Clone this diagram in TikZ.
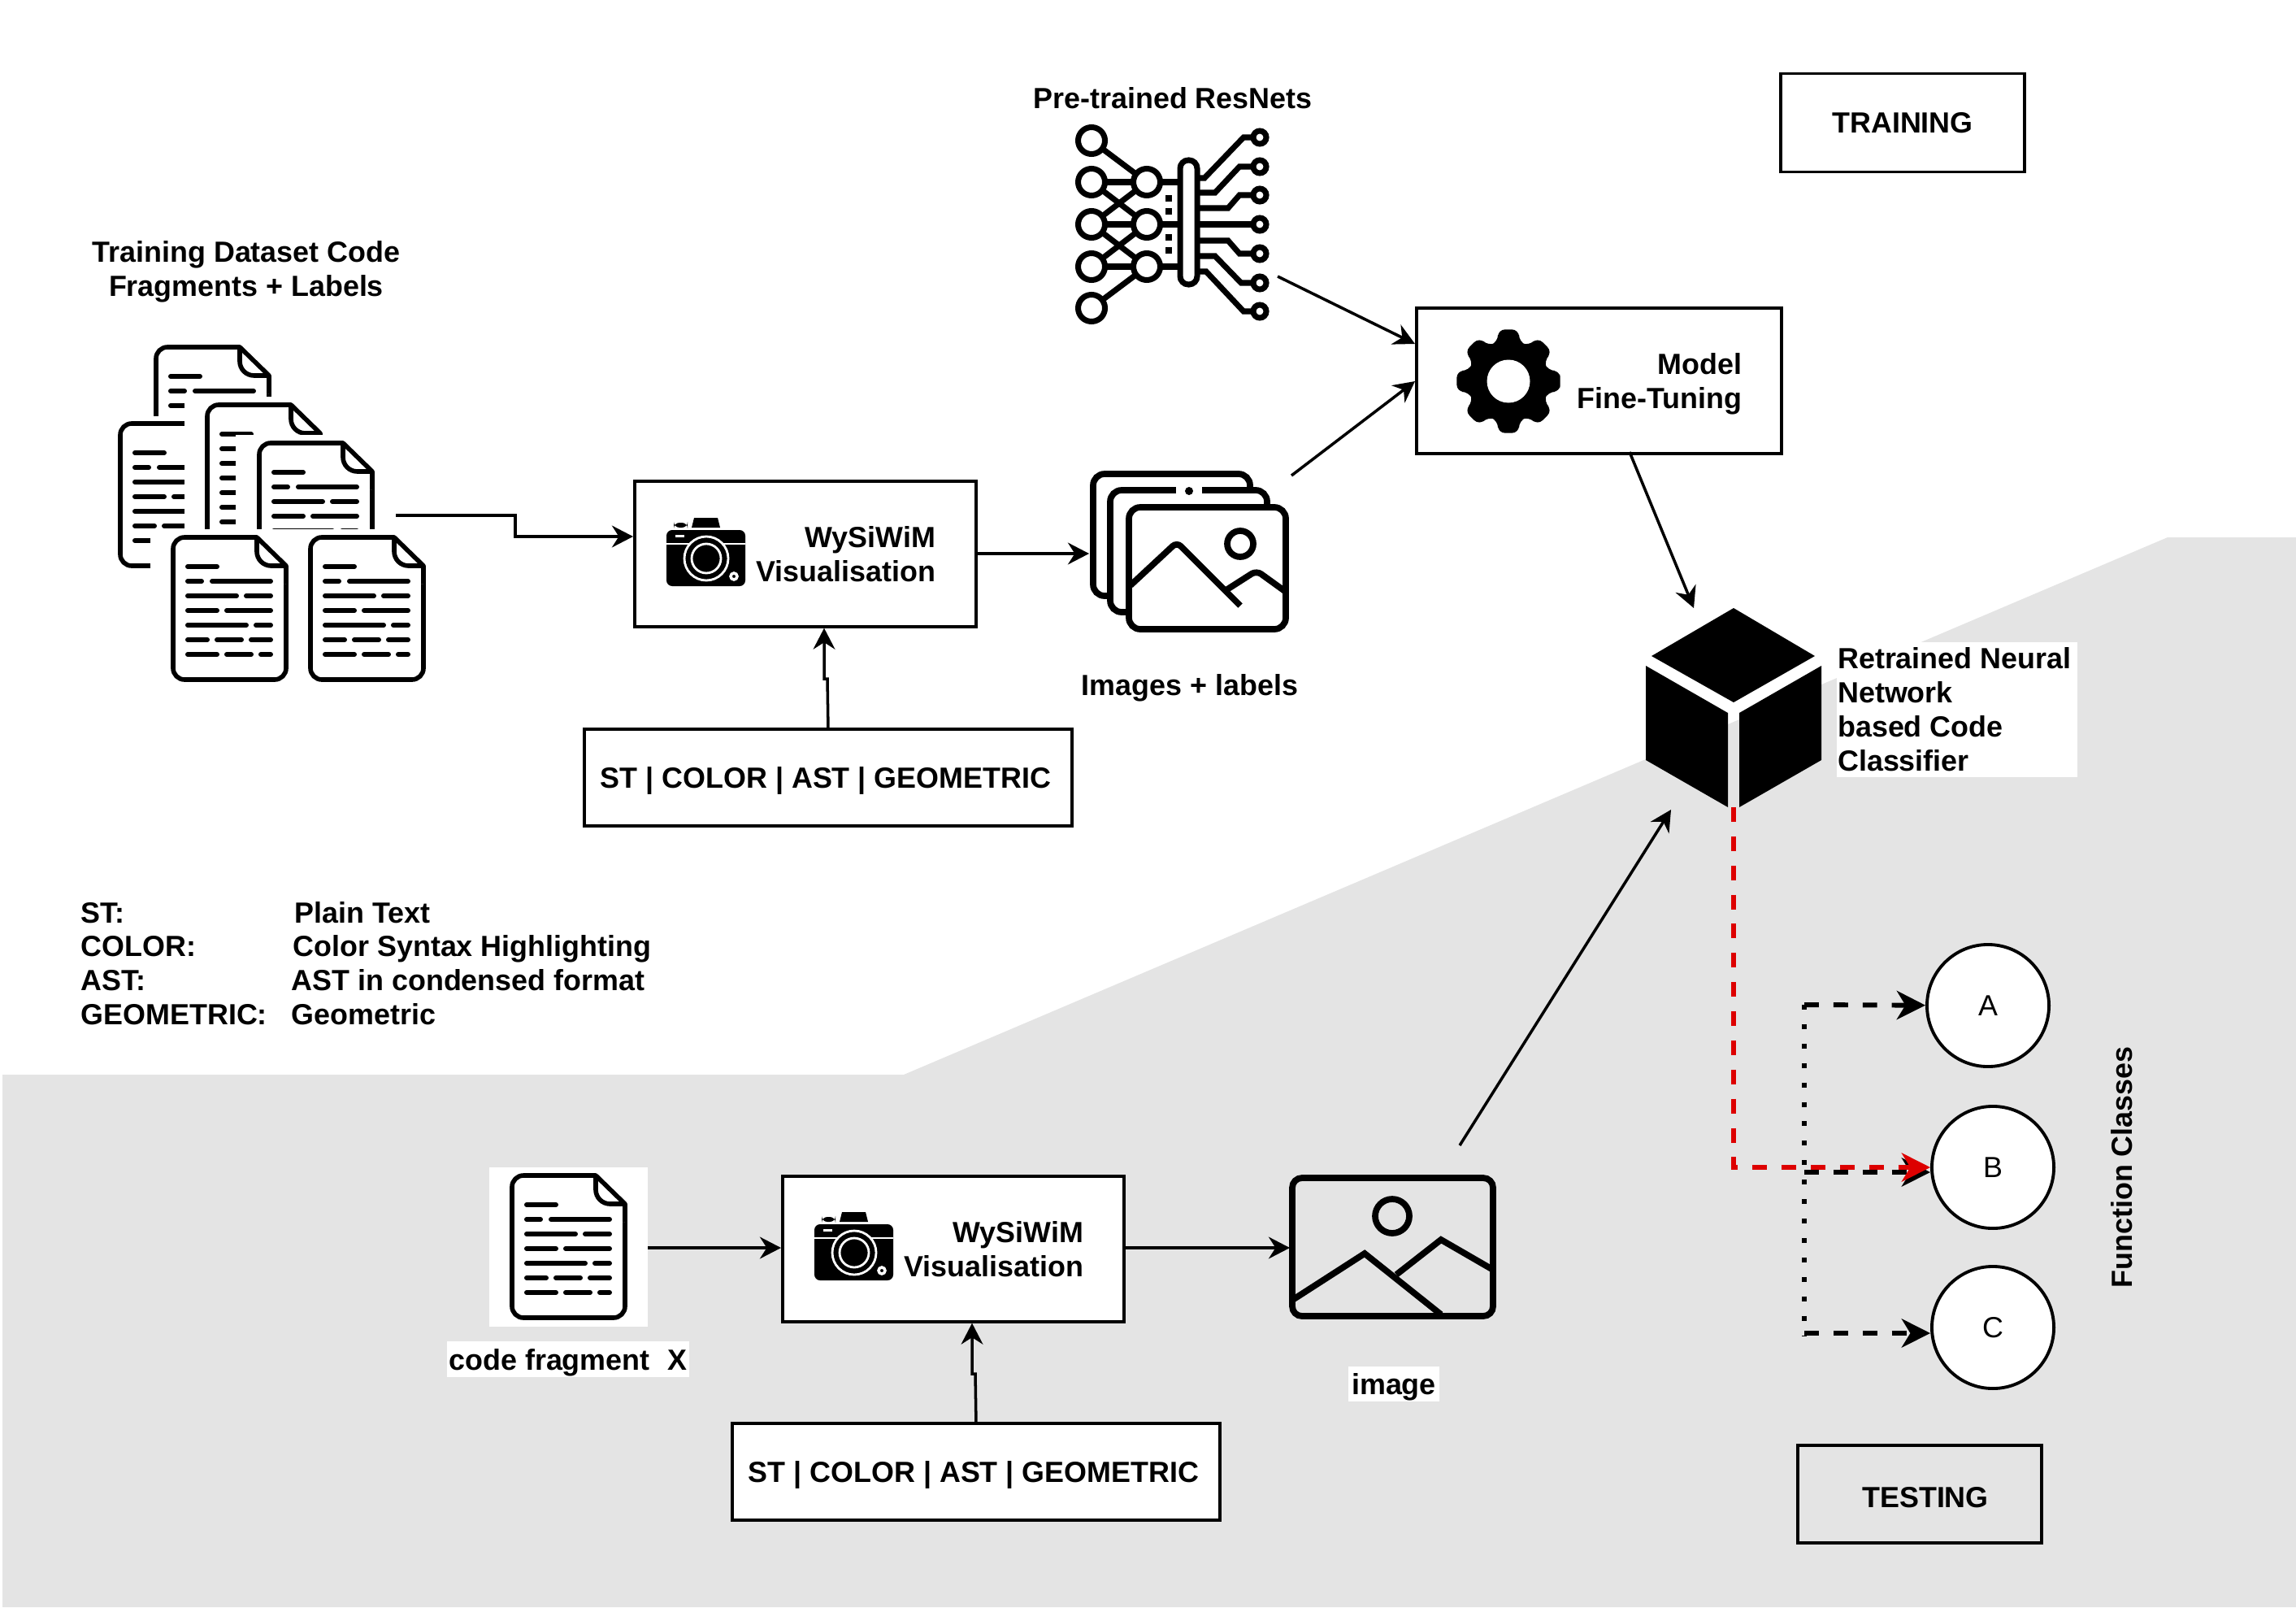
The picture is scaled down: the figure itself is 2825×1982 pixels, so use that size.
\documentclass[tikz,border=0pt]{standalone}
\usepackage{fontspec}
\setmainfont{Liberation Sans}
\usetikzlibrary{arrows.meta}
\definecolor{bandgray}{HTML}{E4E4E4}
\definecolor{flowred}{HTML}{DD0000}
\tikzset{
  lbl/.style={font=\fontsize{10.2pt}{11.9pt}\selectfont\bfseries,inner sep=0pt,align=center},
  legendtxt/.style={lbl,anchor=base west,align=left},
  procbox/.style={lbl,draw,line width=1pt,fill=white,align=right,inner ysep=0pt,minimum height=1.79cm,anchor=north west},
  tagbox/.style={lbl,draw,line width=1pt,fill=white,minimum width=6cm,minimum height=1.19cm,text depth=0pt,anchor=north west},
  classnode/.style={circle,draw,line width=1.1pt,fill=white,minimum size=1.5cm,inner sep=0pt,font=\fontsize{10.2pt}{12pt}\selectfont},
  link/.style={->,line width=1pt},
  fat/.style={line width=1.7pt,>={Stealth[length=10pt,width=10pt,inset=3pt]}},
  docline/.style={line width=1.7pt,line cap=round},
  codefile/.pic={
    \draw[line width=1.6pt,fill=white,rounded corners=4pt] (106,3) -- (3,3) -- (3,178) -- (142,178) -- (142,38);
    \fill[white] (106,3) -- (142,38) -- (142,60) -- (60,60) -- (60,3) -- cycle;
    \draw[line width=1.6pt,line join=round] (50,3) -- (106,3) -- (142,38) -- (142,60);
    \draw[line width=1.6pt,rounded corners=5pt] (106,3) -- (106,38) -- (142,38);
    \foreach \yy/\parts in {39/{18/60},57/{18/41,48/126},75/{18/84,90/126},93/{18/60,66/126},111/{18/96,102/126},129/{18/48,54/90,96/126},147/{18/60,66/102,108/126}}
      \foreach \aa/\bb in \parts
        \draw[docline] (\aa+3,\yy) -- (\bb-3,\yy);
  },
  picframe/.pic={
    \draw[line width=2.2pt,fill=white,rounded corners=4pt] (4,4) rectangle (197,154);
  },
  camshot/.pic={
    \fill[rounded corners=2pt] (0,15) rectangle (97,84);
    \fill (31,12) -- (34,0) -- (63,0) -- (66,12) -- cycle;
    \fill[rounded corners=2pt] (9,12) rectangle (26,6);
    \draw[white,line width=.5pt] (0,32) -- (97,32);
    \fill[white] (11,21) rectangle (22,24);
    \draw[white,line width=.8pt,fill=black] (49,50) circle (27);
    \draw[white,line width=.8pt] (49,50) circle (18);
    \draw[white,line width=1pt] (83,72) circle (4);
  }
}
\begin{document}
\begin{tikzpicture}[x=0.01cm,y=-0.01cm,>={Stealth[length=7.4pt,width=7.6pt,inset=2.4pt]}]
\useasboundingbox (0,0) rectangle (2825,1982);
\fill[bandgray] (3,1322) -- (1112,1322) -- (2667,661) -- (2825,661) -- (2825,1977) -- (3,1977) -- cycle;

\node[lbl] (preLbl) at (1443,121) {Pre-trained ResNets};
\node[lbl] (trainLbl) at (303,334) {Training Dataset Code\\Fragments + Labels};
\node[lbl] (imgsLbl) at (1464,846) {Images + labels};

\pic at (189,424) {codefile};
\fill[white] (180,512) rectangle (350,700);
\pic at (145,518) {codefile};
\fill[white] (227,488) rectangle (350,690) (185,650) rectangle (227,720);
\pic at (252,495) {codefile};
\fill[white] (290,535) rectangle (480,650);
\pic at (316,542) {codefile};
\fill[white] (227,651) rectangle (480,725);
\pic at (210,658) {codefile};
\pic at (379,658) {codefile};

\node[procbox,minimum width=4.2cm,text width=3.2cm,inner xsep=.5cm] (wysTrain) at (779,590) {WySiWiM\\Visualisation};
\node[procbox,minimum width=4.2cm,text width=3.2cm,inner xsep=.5cm] (wysTest) at (961,1445) {WySiWiM\\Visualisation};
\node[procbox,minimum width=4.49cm,text width=3.51cm,inner xsep=.49cm] (tuneBox) at (1741,377) {Model\\\smash{Fine-Tuning}};
\pic at (820,637) {camshot};
\pic at (1002,1491) {camshot};
\node[tagbox] (tagTrain) at (717,895) {ST | COLOR | AST | GEOMETRIC\hspace{.06cm}};
\node[tagbox] (tagTest) at (899,1749) {ST | COLOR | AST | GEOMETRIC\hspace{.06cm}};
\node[lbl,draw,line width=1pt,minimum width=3cm,minimum height=1.21cm] (trainTag) at (2341,151) {TRAINING};
\node[lbl,draw,line width=1pt,minimum width=3cm,minimum height=1.2cm,text height=9.3pt,text depth=0pt] (testTag) at (2362,1838) {\hspace{.14cm}TESTING};

\pic at (1341,579) {picframe};
\pic at (1362,599) {picframe};
\draw[white,line width=3pt] (1447,603) -- (1479,603);
\fill (1463,604) circle (5);
\pic at (1385,620) {picframe};
\begin{scope}[shift={(1385,620)}]
\draw[line width=2.2pt,rounded corners=2pt] (6,100) -- (63,47) -- (141,125);
\draw[line width=2.2pt,rounded corners=2pt] (125,105) -- (161,82) -- (197,108);
\draw[line width=2.2pt] (141,49) circle (16);
\end{scope}

\draw[line width=2.2pt,rounded corners=3.4pt] (1590,1449) rectangle (1837,1619);
\draw[line width=2.2pt] (1713,1496) circle (21);
\draw[line width=2.2pt] (1592,1598) -- (1679,1542) -- (1773,1617);
\draw[line width=2.2pt] (1718,1568) -- (1773,1525) -- (1837,1562);

% pre-trained net
\foreach \yy/\zz in {173/224,224/224,224/276,276/224,276/276,276/328,328/276,328/328,379/328}
  \draw[line width=2pt] (1343,\yy) -- (1411,\zz);
\foreach \yy in {224,276,328} \draw[line width=2pt] (1411,\yy) -- (1452,\yy);
\foreach \yy in {173,224,276,328,379} \draw[line width=2pt,fill=white] (1343,\yy) circle (16.5);
\foreach \yy in {224,276,328} \draw[line width=2pt,fill=white] (1411,\yy) circle (16.5);
\draw[line width=2pt,fill=white,rounded corners=2.9pt] (1452,197) rectangle (1473,350);
\foreach \yy in {244,260,292,308} \fill (1434,\yy-4) rectangle (1442,\yy+4);
\foreach \ya/\xa/\xb/\yb in {219/1482/1530/169,237/1495/1525/205,256/1511/1525/240,276/1500/1530/276,296/1511/1525/312,315/1495/1527/348,334/1484/1530/383}
  \draw[line width=2pt] (1473,\ya) -- (\xa,\ya) -- (\xb,\yb) -- (1550,\yb);
\foreach \yy in {169,205,240,276,312,348,383} \draw[line width=2pt,fill=white] (1550,\yy) circle (8);

% gear
\fill[shift={(1856,469)},rounded corners=2.5pt] (0:63.7) \foreach \aa in {0,45,...,315} { -- (\aa+11.5:65) -- (\aa+15:50) -- (\aa+30:50) -- (\aa+33.5:65) } -- cycle;
\fill[white] (1856,469) circle (26.5);

% cube
\fill (2133,748) -- (2233,807) -- (2133,864) -- (2032,807) -- cycle;
\fill (2025,819) -- (2126,877) -- (2126,993) -- (2025,935) -- cycle;
\fill (2241,819) -- (2140,877) -- (2140,993) -- (2241,935) -- cycle;
\node[lbl,fill=white,align=flush left,anchor=north west,minimum height=1.66cm,inner xsep=.015cm,text width=2.93cm] (cubeLbl) at (2259,789) {Retrained Neural\\Network\\based Code\\Classifier};

% legend
\node[legendtxt] (lgA) at (99,1135) {ST:};
\node[legendtxt] (lgB) at (99,1176) {COLOR:};
\node[legendtxt] (lgC) at (99,1218) {AST:};
\node[legendtxt] (lgD) at (99,1260) {GEOMETRIC:};
\node[legendtxt] (lgE) at (362,1135) {Plain Text};
\node[legendtxt] (lgF) at (360,1176) {Color Syntax Highlighting};
\node[legendtxt] (lgG) at (358,1218) {AST in condensed format};
\node[legendtxt] (lgH) at (358,1260) {Geometric};

% testing side
\fill[white] (602,1436) rectangle (797,1632);
\pic at (627,1443) {codefile};
\node[lbl,fill=white,minimum width=2.97cm,minimum height=.44cm,text depth=0pt] (codeLbl) at (699,1672) {code fragment\hspace{.12cm} X};
\node[lbl,fill=white,minimum width=1.12cm,minimum height=.43cm,text depth=0pt] (imageLbl) at (1715,1702) {image};
\node[classnode] (clsA) at (2446,1237) {A};
\node[classnode] (clsB) at (2452,1436) {B};
\node[classnode] (clsC) at (2452,1633) {C};
\node[lbl,rotate=90] (fnLbl) at (2611,1436) {Function Classes};

% connector ends
\coordinate (docsOut) at (487,634);
\coordinate (wysIn) at (779,660);
\coordinate (stackIn) at (1340,681);
\coordinate (stackOut) at (1589,585);
\coordinate (tuneLow) at (1741,469);
\coordinate (netOut) at (1572,340);
\coordinate (tuneUp) at (1741,423);
\coordinate (cubeTop) at (2084,748);
\coordinate (tuneOut) at (2005,556);
\coordinate (fileOut) at (797,1535);
\coordinate (cardIn) at (1587,1535);
\coordinate (cardOut) at (1796,1409);
\coordinate (cubeLow) at (2056,996);
\coordinate (cubeBase) at (2133,993);
\coordinate (busTop) at (2220,1236);
\coordinate (busBot) at (2220,1643);

\draw[link] (docsOut) -- (634,634) -- (634,660) -- (wysIn);
\draw[link] (wysTrain.east |- stackIn) -- (stackIn);
\draw[link] (tagTrain.north) -- (1018,835) -- (1014,835) -- (1014,0 |- wysTrain.south);
\draw[link] (netOut) -- (tuneUp);
\draw[link] (stackOut) -- (tuneLow);
\draw[link] (tuneOut) -- (cubeTop);
\draw[link] (fileOut) -- (fileOut -| wysTest.west);
\draw[link] (wysTest.east |- cardIn) -- (cardIn);
\draw[link] (tagTest.north) -- (1200,1690) -- (1196,1690) -- (1196,0 |- wysTest.south);
\draw[link] (cardOut) -- (cubeLow);

\draw[line width=1.7pt,dash pattern=on 1.7pt off 5.1pt] (busTop) -- (busBot);
\draw[->,fat,dash pattern=on 5.1pt off 5.1pt] (busTop) -- (clsA);
\draw[->,fat,dash pattern=on 5.1pt off 5.1pt] (2220,1442) -- (clsB.west |- 2220,1442);
\draw[->,fat,dash pattern=on 5.1pt off 5.1pt] (2220,1640) -- (clsC.west |- 2220,1640);
\draw[->,fat,flowred,dash pattern=on 5.1pt off 5.1pt] (cubeBase) -- (2133,1436) -- (clsB);
\end{tikzpicture}
\end{document}
